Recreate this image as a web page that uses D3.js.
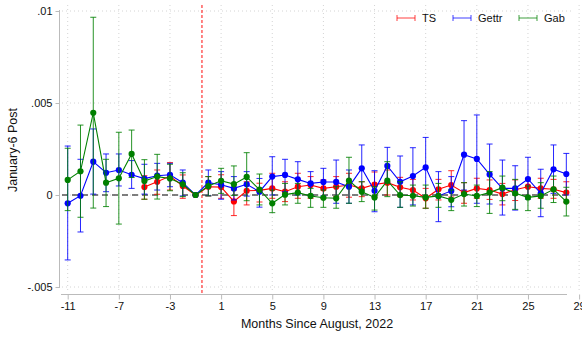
<!DOCTYPE html>
<html>
<head>
<meta charset="utf-8">
<script src="https://cdn.jsdelivr.net/npm/d3@7"></script>
<style>
  html, body { margin: 0; padding: 0; background: #fff; }
  svg { display: block; font-family: "Liberation Sans", Arial, sans-serif; }
</style>
</head>
<body>
<svg id="chart" width="582" height="337"></svg>
<script>
// Event-study estimates by month relative to August 2022 (month -1 is the reference)
const months = d3.range(-11, 29);

const gettrEst = [-0.00045,-0.00004,0.00181,0.00121,0.00136,0.00110,0.00089,0.00105,0.00110,0.00067,0,
  0.00067,0.00056,0.00036,0.00058,0.00018,0.00100,0.00109,0.00085,0.00063,0.00071,0.00071,0.00045,0.00145,
  0.00023,0.00158,0.00072,0.00103,0.00150,-0.00005,0.00022,0.00219,0.00196,0.00112,0.00036,0.00036,0.00087,
  0.00009,0.00140,0.00114];
const gettrLo = [-0.00353,-0.00201,0.00005,0.00018,0.00049,0.00036,0.00005,0.00027,0.00045,-0.00005,0,
  -0.00004,-0.00023,-0.00027,-0.00006,-0.00066,0.00000,0.00018,0.00000,0.00000,-0.00005,-0.00045,-0.00045,0.00027,
  -0.00091,0.00067,-0.00067,-0.00054,-0.00009,-0.00145,-0.00064,0.00027,-0.00045,-0.00049,-0.00109,-0.00082,-0.00023,
  -0.00118,0.00009,0.00000];
const gettrHi = [0.00266,0.00194,0.00359,0.00223,0.00223,0.00187,0.00167,0.00172,0.00172,0.00136,0,
  0.00136,0.00127,0.00100,0.00127,0.00090,0.00208,0.00194,0.00181,0.00127,0.00145,0.00190,0.00136,0.00272,
  0.00132,0.00259,0.00212,0.00257,0.00313,0.00127,0.00100,0.00404,0.00435,0.00277,0.00190,0.00159,0.00205,
  0.00140,0.00272,0.00226];

const gabEst = [0.00082,0.00129,0.00447,0.00067,0.00091,0.00223,0.00076,0.00100,0.00090,0.00058,0,
  0.00049,0.00077,0.00059,0.00098,0.00029,-0.00045,0.00002,0.00013,-0.00005,-0.00015,-0.00018,0.00078,0.00018,
  -0.00013,0.00078,0.00000,-0.00004,-0.00013,-0.00005,-0.00026,0.00005,-0.00005,0.00013,0.00040,0.00009,-0.00013,
  -0.00005,0.00031,-0.00036];
const gabLo = [-0.00085,-0.00121,-0.00071,-0.00063,-0.00158,0.00095,-0.00023,-0.00022,0.00023,-0.00009,0,
  -0.00005,0.00009,-0.00002,-0.00031,-0.00054,-0.00096,-0.00054,-0.00045,-0.00067,-0.00067,-0.00072,-0.00045,-0.00036,
  -0.00082,-0.00009,-0.00067,-0.00060,-0.00072,-0.00067,-0.00085,-0.00060,-0.00063,-0.00100,-0.00031,-0.00078,-0.00085,
  -0.00072,-0.00041,-0.00114];
const gabHi = [0.00254,0.00380,0.00966,0.00194,0.00341,0.00353,0.00192,0.00221,0.00167,0.00121,0,
  0.00100,0.00145,0.00158,0.00230,0.00114,0.00027,0.00063,0.00063,0.00036,0.00027,0.00045,0.00205,0.00072,
  0.00045,0.00181,0.00072,0.00054,0.00054,0.00063,0.00027,0.00067,0.00054,0.00127,0.00103,0.00085,0.00049,
  0.00067,0.00103,0.00042];

// TS has no estimates before month -5
const tsEst = [null,null,null,null,null,null,0.00043,0.00072,0.00103,0.00049,0,
  0.00045,0.00043,-0.00035,0.00023,0.00025,0.00036,0.00018,0.00045,0.00054,0.00036,0.00045,0.00054,0.00036,
  0.00057,0.00067,0.00042,0.00027,-0.00018,0.00031,0.00054,0.00013,0.00036,0.00027,0.00005,0.00029,0.00045,
  0.00036,0.00031,0.00013];
const tsLo = [null,null,null,null,null,null,-0.00023,0.00004,0.00027,-0.00018,0,
  -0.00005,-0.00018,-0.00112,-0.00054,-0.00038,-0.00018,-0.00036,-0.00018,-0.00018,-0.00018,-0.00009,-0.00012,-0.00009,
  -0.00011,0.00000,-0.00009,-0.00027,-0.00072,-0.00027,-0.00011,-0.00045,-0.00018,-0.00024,-0.00054,-0.00030,-0.00009,
  -0.00018,-0.00018,-0.00042];
const tsHi = [null,null,null,null,null,null,0.00105,0.00136,0.00176,0.00109,0,
  0.00100,0.00110,0.00027,0.00072,0.00064,0.00118,0.00072,0.00118,0.00100,0.00082,0.00100,0.00118,0.00072,
  0.00125,0.00136,0.00096,0.00085,0.00036,0.00085,0.00132,0.00067,0.00091,0.00082,0.00063,0.00082,0.00091,
  0.00091,0.00085,0.00072];

const seriesNames = ["TS", "Gettr", "Gab"];
const seriesColors = ["#ff0000", "#0000ff", "#008000"];
const xTicks = d3.range(-11, 30, 4);
const xTickLabels = ["-11", "-7", "-3", "1", "5", "9", "13", "17", "21", "25", "29"];
const yTicks = [-0.005, 0, 0.005, 0.01];
const yTickLabels = ["-.005", "0", ".005", ".01"];
const treatmentMonth = -0.5;

const svg = d3.select("#chart");
const x = d3.scaleLinear().domain([-11, 29]).range([67.7, 579.1]);
const y = d3.scaleLinear().domain([-0.005, 0.01]).range([287, 11]);

const plotLeft = 61, plotRight = 567, plotTop = 5, plotBottom = 292;

// dotted grid
const grid = svg.append("g");
grid.selectAll("line.gx").data(xTicks).join("line")
  .attr("x1", d => x(d)).attr("x2", d => x(d))
  .attr("y1", plotTop).attr("y2", plotBottom)
  .attr("stroke", "#d4d4d4").attr("stroke-width", 1).attr("stroke-dasharray", "1,3");
grid.selectAll("line.gy").data(yTicks).join("line")
  .attr("x1", plotLeft + 1).attr("x2", 572)
  .attr("y1", d => y(d)).attr("y2", d => y(d))
  .attr("stroke", "#d4d4d4").attr("stroke-width", 1).attr("stroke-dasharray", "1,3");

// zero reference
svg.append("line")
  .attr("x1", plotLeft + 1).attr("x2", plotRight)
  .attr("y1", y(0)).attr("y2", y(0))
  .attr("stroke", "#555").attr("stroke-width", 1.5).attr("stroke-dasharray", "6,4");

// treatment line
svg.append("line")
  .attr("x1", x(treatmentMonth)).attr("x2", x(treatmentMonth))
  .attr("y1", plotTop).attr("y2", plotBottom + 1)
  .attr("stroke", "#ff0000").attr("stroke-opacity", 0.6)
  .attr("stroke-width", 1.6).attr("stroke-dasharray", "3,2");

// axes
const yAxis = d3.axisLeft(y).tickValues(yTicks)
  .tickFormat((d, i) => yTickLabels[i]).tickSize(4).tickPadding(3);
const gy = svg.append("g").attr("transform", "translate(59.5,0)").call(yAxis);
gy.select(".domain").attr("d", `M0,${y(0.01) - 1}V${y(-0.005) + 1}`).attr("stroke", "#bbb");
gy.selectAll(".tick line").attr("stroke", "#bbb");
gy.selectAll(".tick text").attr("font-size", 11).attr("fill", "#111")
  .attr("font-family", "Liberation Sans, Arial, sans-serif");

const xAxis = d3.axisBottom(x).tickValues(xTicks)
  .tickFormat((d, i) => xTickLabels[i]).tickSize(5).tickPadding(3);
const gx = svg.append("g").attr("transform", "translate(0,294.5)").call(xAxis);
gx.select(".domain").attr("d", `M${plotLeft},0H${plotRight}`).attr("stroke", "#bbb");
gx.selectAll(".tick line").attr("stroke", "#bbb");
gx.selectAll(".tick text").attr("font-size", 11).attr("fill", "#111")
  .attr("font-family", "Liberation Sans, Arial, sans-serif");

svg.append("text").attr("x", 317).attr("y", 328).attr("text-anchor", "middle")
  .attr("font-size", 12.5).attr("fill", "#111").text("Months Since August, 2022");
svg.append("text").attr("transform", "translate(17,150) rotate(-90)").attr("text-anchor", "middle")
  .attr("font-size", 12.5).attr("fill", "#111").text("January-6 Post");

// series
const series = [
  { est: tsEst, lo: tsLo, hi: tsHi },
  { est: gettrEst, lo: gettrLo, hi: gettrHi },
  { est: gabEst, lo: gabLo, hi: gabHi }
].map((s, i) => ({
  name: seriesNames[i], color: seriesColors[i],
  pts: months.map((m, j) => ({ m, est: s.est[j], lo: s.lo[j], hi: s.hi[j] })).filter(p => p.est !== null)
}));

const cap = 3;
series.forEach(s => {
  const g = svg.append("g");
  const bars = g.selectAll("g.ci").data(s.pts.filter(p => p.hi !== p.lo)).join("g")
    .attr("stroke", s.color).attr("stroke-width", 1).attr("stroke-opacity", 0.85);
  bars.append("line").attr("x1", d => x(d.m)).attr("x2", d => x(d.m))
    .attr("y1", d => y(d.lo)).attr("y2", d => y(d.hi));
  bars.append("line").attr("x1", d => x(d.m) - cap).attr("x2", d => x(d.m) + cap)
    .attr("y1", d => y(d.lo)).attr("y2", d => y(d.lo));
  bars.append("line").attr("x1", d => x(d.m) - cap).attr("x2", d => x(d.m) + cap)
    .attr("y1", d => y(d.hi)).attr("y2", d => y(d.hi));

  g.append("path").datum(s.pts)
    .attr("d", d3.line().x(d => x(d.m)).y(d => y(d.est)))
    .attr("fill", "none").attr("stroke", s.color).attr("stroke-width", 1.1);
  g.selectAll("circle").data(s.pts).join("circle")
    .attr("cx", d => x(d.m)).attr("cy", d => y(d.est)).attr("r", 3.1)
    .attr("fill", s.color);
});

// legend
const legendX = [397, 453, 519];
const legend = svg.append("g");
series.forEach((s, i) => {
  const lg = legend.append("g").attr("stroke", s.color).attr("stroke-width", 1).attr("stroke-opacity", 0.75);
  lg.append("line").attr("x1", legendX[i]).attr("x2", legendX[i] + 18).attr("y1", 18).attr("y2", 18);
  lg.append("line").attr("x1", legendX[i]).attr("x2", legendX[i]).attr("y1", 15).attr("y2", 21);
  lg.append("line").attr("x1", legendX[i] + 18).attr("x2", legendX[i] + 18).attr("y1", 15).attr("y2", 21);
  legend.append("text").attr("x", legendX[i] + 25).attr("y", 22)
    .attr("font-size", 11).attr("fill", "#111").text(s.name);
});
</script>
</body>
</html>
